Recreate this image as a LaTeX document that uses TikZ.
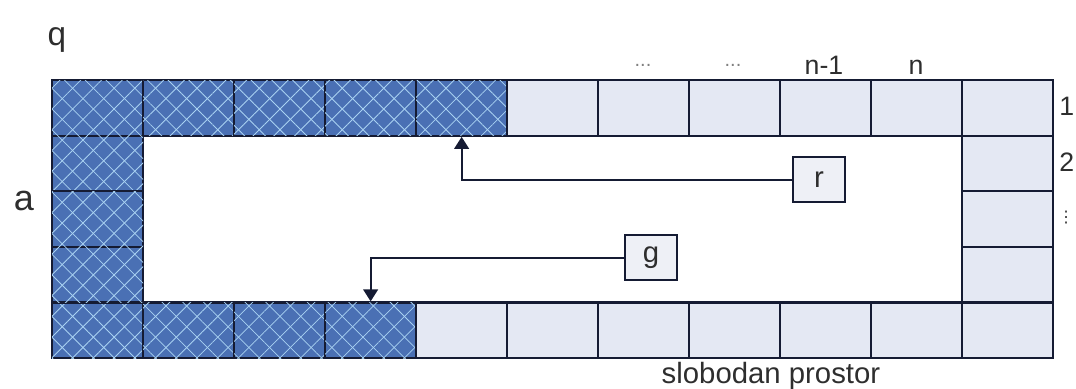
\documentclass[tikz,border=0pt]{standalone}
\usepackage{fontspec}
\setmainfont{Liberation Sans}
\newfontfamily\dejavu{DejaVu Sans}
\usetikzlibrary{patterns.meta,arrows.meta}
\definecolor{hatchblue}{HTML}{4A70B4}
\definecolor{hatchline}{HTML}{A9D2F2}
\definecolor{freecell}{HTML}{E4E8F3}
\definecolor{gridline}{HTML}{151B33}
\definecolor{boxfill}{HTML}{EEF0F6}
\definecolor{txt}{HTML}{2E2E2E}
\tikzset{
  cellbase/.style={draw=gridline, line width=1.7pt, minimum width=68.25pt, minimum height=41.7pt, inner sep=0pt, anchor=north west},
  usedcell/.style={cellbase, fill=hatchblue,
    postaction={pattern={Lines[angle=45,distance=11pt,line width=0.6pt]}, pattern color=hatchline},
    postaction={pattern={Lines[angle=-45,distance=11pt,line width=0.6pt]}, pattern color=hatchline}},
  freecellst/.style={cellbase, fill=freecell},
  labelbox/.style={draw=gridline, line width=1.5pt, fill=boxfill, minimum width=39pt, minimum height=34pt, inner sep=0pt, font=\fontsize{22}{22}\selectfont, text=txt},
  lbl/.style={inner sep=0pt, text=txt},
  conn/.style={draw=gridline, line width=1.5pt, -{Triangle[width=11pt,length=9pt]}}
}
\begin{document}
\begin{tikzpicture}[x=0.75pt,y=-0.75pt]
\useasboundingbox (0,0) rectangle (1076,389);
% column width 91, row height 55.6
\def\cw{91}
\def\rh{55.6}
% top row
\foreach \i in {0,...,10}{
  \pgfmathsetmacro{\xx}{51+\i*\cw}
  \ifnum\i<5
    \node[usedcell] (t\i) at (\xx,79) {};
  \else
    \node[freecellst] (t\i) at (\xx,79) {};
  \fi
}
% bottom row
\foreach \i in {0,...,10}{
  \pgfmathsetmacro{\xx}{51+\i*\cw}
  \pgfmathsetmacro{\yy}{79+4*\rh}
  \ifnum\i<4
    \node[usedcell] (b\i) at (\xx,\yy) {};
  \else
    \node[freecellst] (b\i) at (\xx,\yy) {};
  \fi
}
% left and right columns
\foreach \j in {1,2,3}{
  \pgfmathsetmacro{\yy}{79+\j*\rh}
  \node[usedcell] (l\j) at (51,\yy) {};
  \node[freecellst] (r\j) at (961,\yy) {};
}
% labels
\node[lbl, font=\fontsize{25}{25}\selectfont] (q) at (57,40) {q};
\node[lbl, font=\fontsize{27}{27}\selectfont] (a) at (24,201) {a};
\node[lbl, font=\fontsize{15}{15}\selectfont, anchor=base, text=gray] (d1) at (643,66) {...};
\node[lbl, font=\fontsize{15}{15}\selectfont, anchor=base, text=gray] (d2) at (733,66) {...};
\node[lbl, font=\fontsize{20}{20}\selectfont, anchor=base] (nm) at (824,74) {n-1};
\node[lbl, font=\fontsize{20}{20}\selectfont, anchor=base] (nn) at (916,74) {n};
\node[lbl, font=\fontsize{20}{20}\selectfont, anchor=base west] (one) at (1059,115) {1};
\node[lbl, font=\fontsize{20}{20}\selectfont, anchor=base west] (two) at (1059,171) {2};
\node[lbl, font=\dejavu\fontsize{12}{12}\selectfont] (vd) at (1066,218) {⋮};
\node[lbl, font=\fontsize{22}{22}\selectfont] (free) at (771,376) {slobodan prostor};
% boxes
\node[labelbox] (r) at (819,179.5) {r};
\node[labelbox] (g) at (651,257.5) {g};
% connectors
\draw[conn] (r.west) -| (t4.south);
\draw[conn] (g.west) -| (b3.north);
\end{tikzpicture}
\end{document}
